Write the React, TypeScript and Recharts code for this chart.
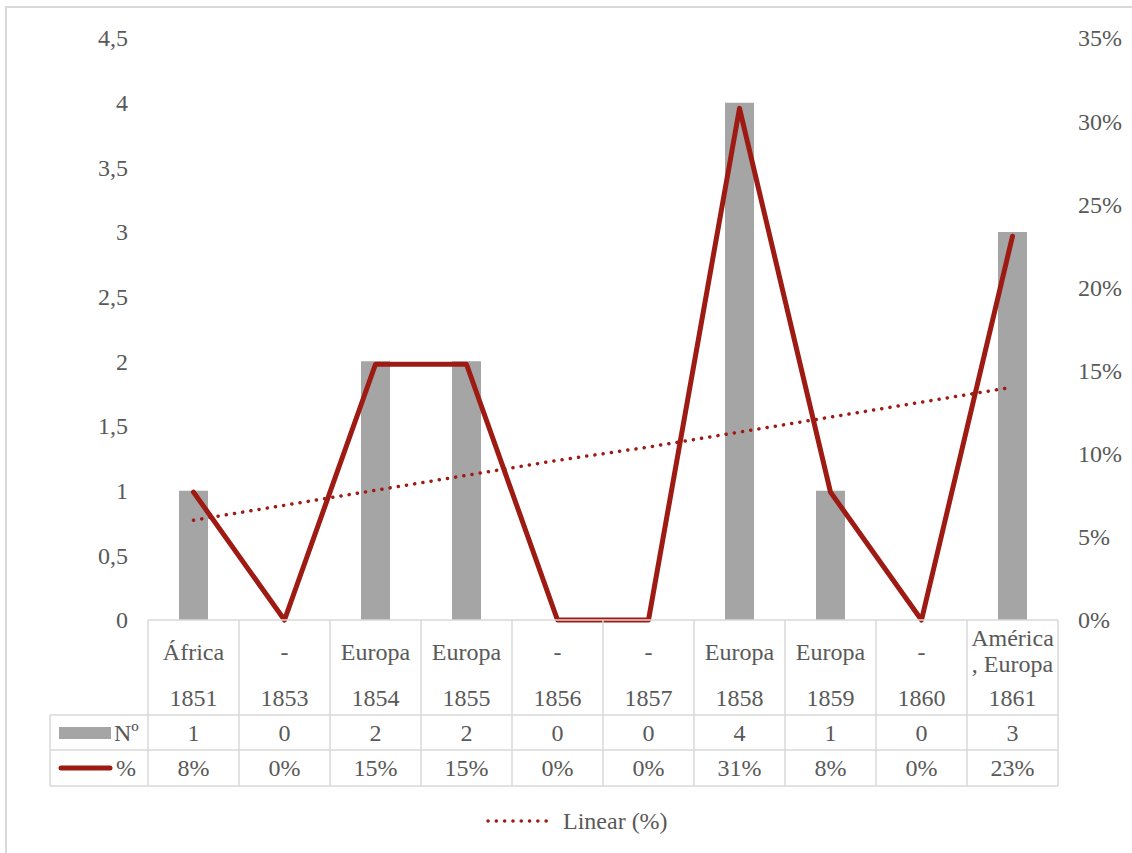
import {
  Bar,
  ComposedChart,
  Line,
  XAxis,
  YAxis,
} from "recharts";

const years = ["1851", "1853", "1854", "1855", "1856", "1857", "1858", "1859", "1860", "1861"];
const regions = ["África", "-", "Europa", "Europa", "-", "-", "Europa", "Europa", "-", "América\n, Europa"];
const counts = [1, 0, 2, 2, 0, 0, 4, 1, 0, 3];
// share of the 13 trips, in percent
const percents = [7.69, 0, 15.38, 15.38, 0, 0, 30.77, 7.69, 0, 23.08];
// linear trendline of the percent series, as drawn
const trend = [6.0, 6.9, 7.8, 8.7, 9.6, 10.4, 11.3, 12.2, 13.1, 14.0];

const leftTicks = [0, 0.5, 1, 1.5, 2, 2.5, 3, 3.5, 4, 4.5];
const rightTicks = [0, 5, 10, 15, 20, 25, 30, 35];

const data = years.map((year, i) => ({
  year,
  region: regions[i],
  n: counts[i],
  pct: percents[i],
  trend: trend[i],
}));

const FONT = "Liberation Serif";
const FS = 24;
const TEXT = "#595959";
const GRID = "#D9D9D9";
const BAR = "#A5A5A5";
const RED = "#9E1B14";

const W = 1132;
const H = 853;
const LEFT_W = 148;
const RIGHT_W = 74;
const TOP = 38;
const BOTTOM = 620;
const BAND = (W - LEFT_W - RIGHT_W) / years.length;

// table rows (y positions)
const ROW_TOP = BOTTOM;
const ROW_N = 715;
const ROW_P = 750;
const ROW_END = 786;
const KEY_LEFT = 50;

function Txt({ x, y, children, anchor = "middle" }: { x: number; y: number; children: any; anchor?: string }) {
  return (
    <text
      x={x}
      y={y}
      dy="0.35em"
      textAnchor={anchor as any}
      fill={TEXT}
      style={{ fontFamily: FONT, fontSize: FS }}
    >
      {children}
    </text>
  );
}

function AxisTick(props: any) {
  const { x, y, payload, side } = props;
  const v = payload.value;
  const label = side === "left" ? String(v).replace(".", ",") : `${v}%`;
  return <Txt x={x} y={y} anchor={side === "left" ? "end" : "start"}>{label}</Txt>;
}

function TableTick(props: any) {
  const { x, payload } = props;
  let i = payload?.index;
  if (i == null) i = years.indexOf(payload.value);
  const d = data[i];
  const l = x - BAND / 2;
  const r = x + BAND / 2;
  const lines = d.region.split("\n");
  return (
    <g>
      {[ROW_TOP, ROW_N, ROW_P, ROW_END].map((yy) => (
        <line key={yy} x1={l} x2={r} y1={yy} y2={yy} stroke={GRID} strokeWidth={1.5} />
      ))}
      <line x1={l} x2={l} y1={ROW_TOP} y2={ROW_END} stroke={GRID} strokeWidth={1.5} />
      {i === years.length - 1 && (
        <line x1={r} x2={r} y1={ROW_TOP} y2={ROW_END} stroke={GRID} strokeWidth={1.5} />
      )}
      {lines.length === 1 ? (
        <Txt x={x} y={652}>{lines[0]}</Txt>
      ) : (
        lines.map((s: string, k: number) => (
          <Txt key={k} x={x} y={638 + k * 26}>{s}</Txt>
        ))
      )}
      <Txt x={x} y={698}>{d.year}</Txt>
      <Txt x={x} y={733}>{d.n}</Txt>
      <Txt x={x} y={768}>{`${Math.round(d.pct)}%`}</Txt>
      {i === 0 && (
        <g>
          {[ROW_N, ROW_P, ROW_END].map((yy) => (
            <line key={yy} x1={KEY_LEFT} x2={l} y1={yy} y2={yy} stroke={GRID} strokeWidth={1.5} />
          ))}
          <line x1={KEY_LEFT} x2={KEY_LEFT} y1={ROW_N} y2={ROW_END} stroke={GRID} strokeWidth={1.5} />
          <rect x={59} y={727} width={52} height={12} fill={BAR} />
          <Txt x={114} y={733} anchor="start">Nº</Txt>
          <line x1={61} x2={110} y1={768} y2={768} stroke={RED} strokeWidth={5} strokeLinecap="round" />
          <Txt x={116} y={768} anchor="start">%</Txt>
        </g>
      )}
    </g>
  );
}

export default function App() {
  return (
    <div
      style={{
        position: "absolute",
        left: 0,
        top: 0,
        width: W,
        height: H,
        overflow: "hidden",
        background: "#fff",
      }}
    >
      <div
        style={{
          position: "absolute",
          left: 5,
          top: 6,
          width: W + 20,
          height: H + 20,
          border: `2px solid ${GRID}`,
        }}
      />
      <div style={{ position: "absolute", left: 0, top: 0 }}>
        <ComposedChart
          width={W}
          height={H}
          data={data}
          margin={{ top: TOP, right: 0, bottom: 0, left: 0 }}
          barCategoryGap={0}
        >
          <XAxis
            dataKey="year"
            xAxisId={0}
            height={H - BOTTOM}
            axisLine={false}
            tickLine={false}
            interval={0}
            tick={<TableTick />}
          />
          <YAxis
            yAxisId="n"
            orientation="left"
            width={LEFT_W}
            domain={[0, 4.5]}
            ticks={leftTicks}
            axisLine={false}
            tickLine={false}
            tickSize={0}
            tickMargin={20}
            tick={<AxisTick side="left" />}
          />
          <YAxis
            yAxisId="p"
            orientation="right"
            width={RIGHT_W}
            domain={[0, 35]}
            ticks={rightTicks}
            axisLine={false}
            tickLine={false}
            tickSize={0}
            tickMargin={20}
            tick={<AxisTick side="right" />}
          />
          <Bar yAxisId="n" dataKey="n" fill={BAR} barSize={29} isAnimationActive={false} />
          <Line
            yAxisId="p"
            dataKey="pct"
            stroke={RED}
            strokeWidth={5}
            strokeLinecap="round"
            strokeLinejoin="round"
            dot={false}
            activeDot={false}
            type="linear"
            isAnimationActive={false}
          />
          <Line
            yAxisId="p"
            dataKey="trend"
            stroke={RED}
            strokeWidth={3.5}
            strokeDasharray="0.1 8.2"
            strokeLinecap="round"
            dot={false}
            activeDot={false}
            type="linear"
            isAnimationActive={false}
          />
        </ComposedChart>
      </div>
      <div
        style={{
          position: "absolute",
          left: 484,
          top: 806,
          display: "flex",
          alignItems: "center",
          fontFamily: FONT,
          fontSize: FS,
          color: TEXT,
        }}
      >
        <svg width={74} height={30}>
          <line
            x1={4}
            x2={70}
            y1={15}
            y2={15}
            stroke={RED}
            strokeWidth={3.5}
            strokeDasharray="0.1 8.2"
            strokeLinecap="round"
          />
        </svg>
        <span style={{ marginLeft: 5 }}>Linear (%)</span>
      </div>
    </div>
  );
}
